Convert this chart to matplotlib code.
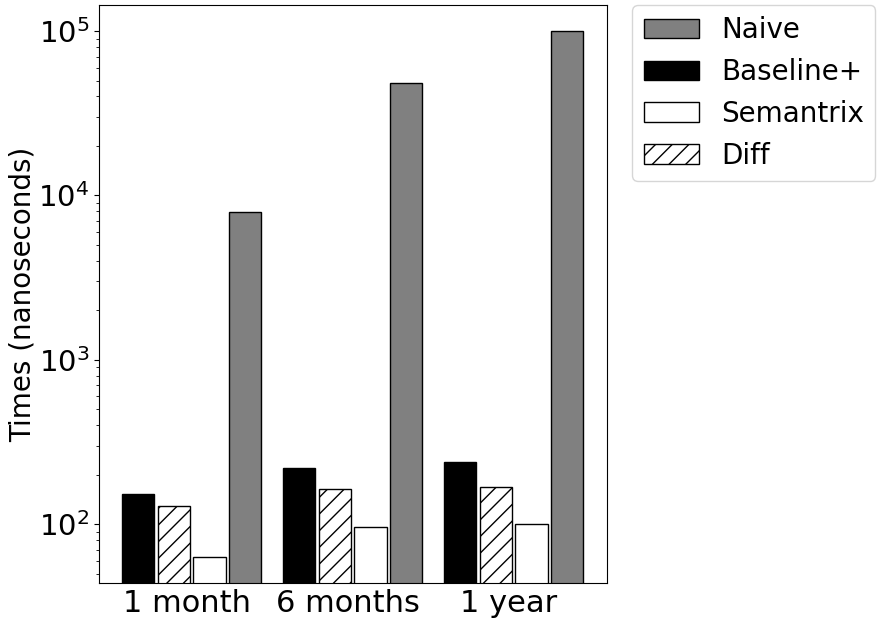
import numpy as np
import matplotlib
matplotlib.use('Agg')
import matplotlib.pyplot as plt

periods = ['1 month', '6 months', '1 year']
baseline = [154, 219, 238]
diff = [129, 163, 168]
semantrix = [63, 97, 101]
naive = [7990, 48600, 100000]

fig = plt.figure(figsize=(8.79, 6.28), dpi=100)
ax = fig.add_axes([0.1126, 0.0717, 0.578, 0.9203])

x = np.arange(len(periods))
w = 0.2; step = 0.2215
b_base = ax.bar(x - 1.5*step, baseline, w, color='black', edgecolor='black', label='Baseline+')
b_diff = ax.bar(x - 0.5*step, diff, w, color='white', edgecolor='black', hatch='//', label='Diff')
b_sem = ax.bar(x + 0.5*step, semantrix, w, color='white', edgecolor='black', label='Semantrix')
b_naive = ax.bar(x + 1.5*step, naive, w, color='gray', edgecolor='black', label='Naive')

ax.set_yscale('log')
ax.set_ylim(44, 1.44e5)
ax.set_xlim(-0.575, 2.58)
ax.set_xticks(x - 0.03)
ax.set_xticklabels(periods)
ax.tick_params(axis='x', length=0, labelsize=22, pad=4)
ax.tick_params(axis='y', which='major', labelsize=21)
ax.set_ylabel('Times (nanoseconds)', fontsize=20, labelpad=1)

ax.legend([b_naive, b_base, b_sem, b_diff], ['Naive', 'Baseline+', 'Semantrix', 'Diff'],
          loc='upper left', bbox_to_anchor=(1.05, 1), borderaxespad=0, fontsize=20)

fig.savefig('out.png', dpi=100)
